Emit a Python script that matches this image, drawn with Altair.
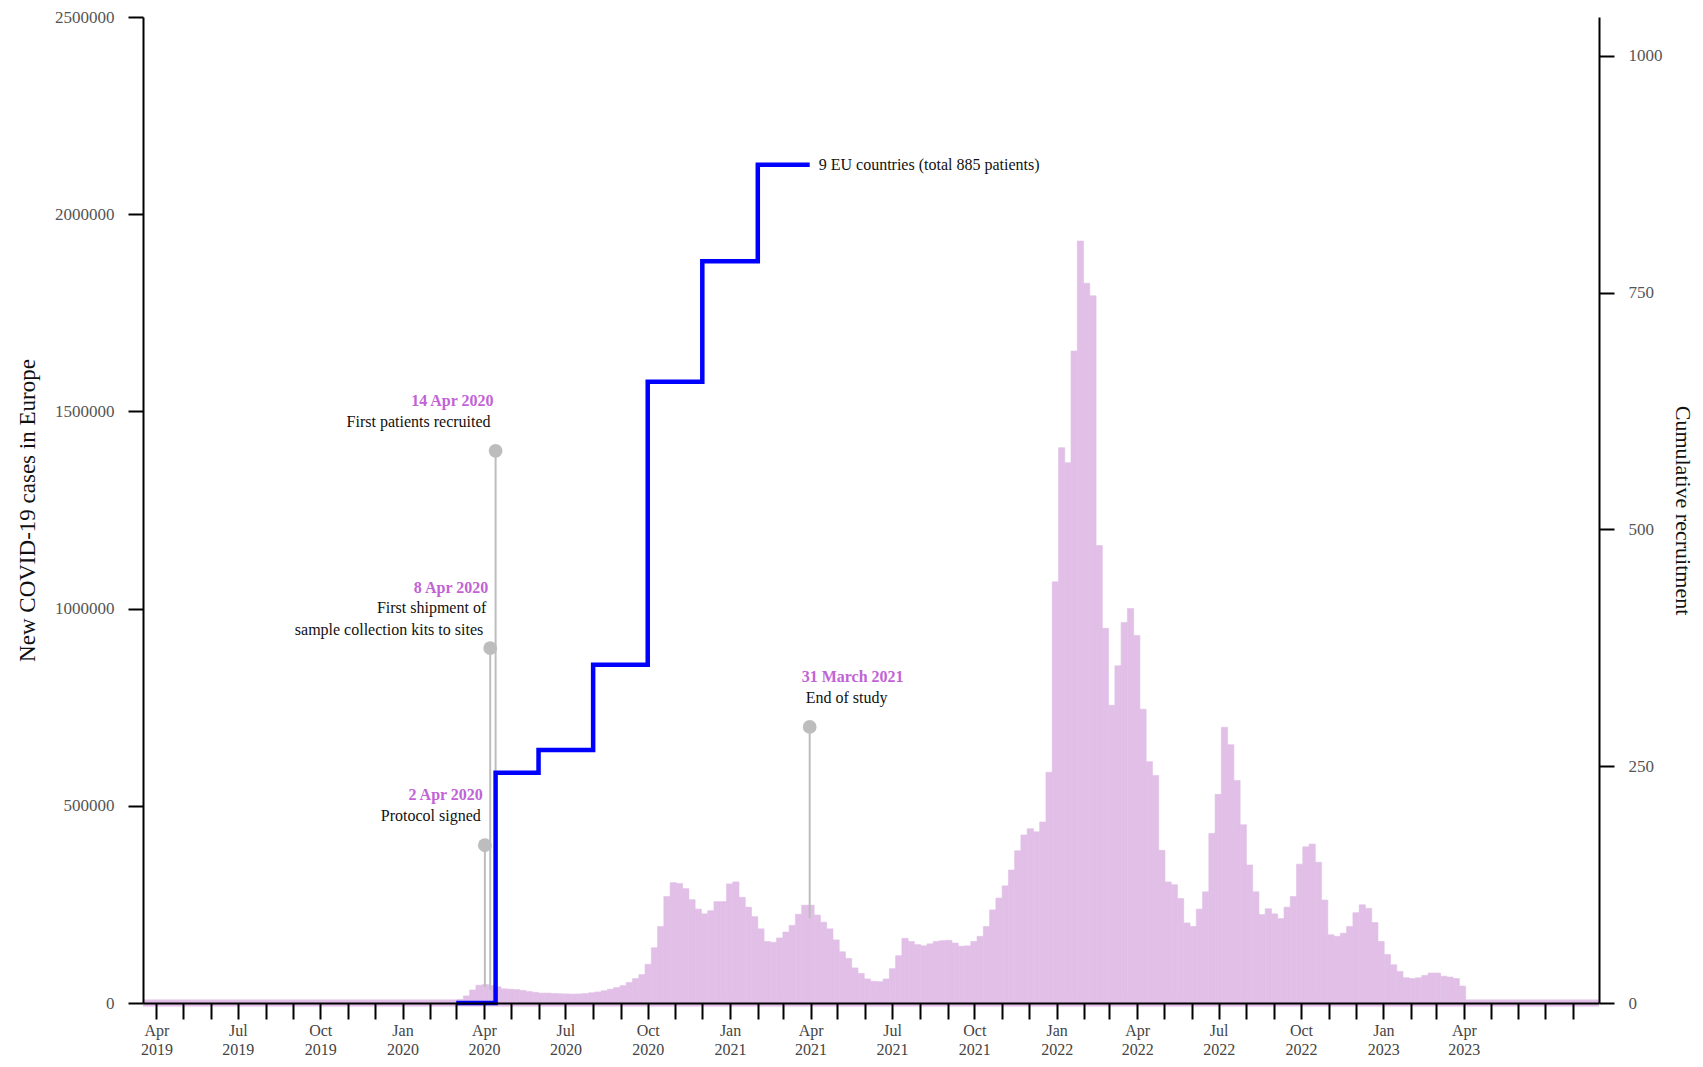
import altair as alt
import pandas as pd

PURPLE = "#e1bfe7"
BLUE = "#0000ff"
GREY = "#bdbdbd"
DATE_COLOR = "#c163d6"
FONT = "Liberation Serif"

# ---------------- data ----------------
# Weekly new COVID-19 cases in Europe, one value per week, weeks start Monday 2020-02-24
first_week = "2020-02-24"
cases_2020 = [4000, 9000, 18000, 33000, 45000, 47000, 44000, 41000, 36000, 35000,
              34000, 32000, 29000, 27000, 25000, 25000, 24000, 23500, 23000, 22500,
              23000, 24000, 26000, 28000, 31000, 35000, 39000, 44000, 52000, 62000,
              72000, 98000, 140000, 194000, 270000, 305000, 303000, 290000, 262000, 238000,
              226000, 234000, 257000, 257000, 302000]
cases_2021 = [307000, 268000, 243000, 219000, 188000, 156000, 154000, 165000, 180000, 197000,
              225000, 248000, 248000, 223000, 205000, 188000, 160000, 130000, 113000, 89000,
              75000, 61000, 55000, 54000, 61000, 87000, 120000, 164000, 156000, 148000,
              145000, 150000, 156000, 158000, 159000, 152000, 144000, 145000, 156000, 169000,
              194000, 236000, 266000, 297000, 337000, 386000, 426000, 442000, 434000, 459000,
              585000, 1068000]
cases_2022 = [1408000, 1370000, 1653000, 1932000, 1825000, 1793000, 1160000, 950000, 755000, 855000,
              965000, 1000000, 932000, 745000, 612000, 577000, 387000, 307000, 300000, 265000,
              203000, 194000, 238000, 282000, 430000, 529000, 699000, 655000, 564000, 452000,
              350000, 282000, 224000, 239000, 226000, 214000, 243000, 270000, 352000, 396000,
              403000, 357000, 261000, 173000, 169000, 177000, 194000, 229000, 249000, 240000,
              204000, 156000]
cases_2023 = [123000, 97000, 80000, 64000, 62000, 64000, 70000, 76000, 76000, 68000,
              66000, 62000, 43000]
weekly_cases = cases_2020 + cases_2021 + cases_2022 + cases_2023

# Cumulative recruitment (step line, right axis)
recruit_dates = ["2020-03-01", "2020-04-14", "2020-06-01", "2020-08-01",
                 "2020-10-01", "2020-12-01", "2021-02-01", "2021-03-31"]
recruit_totals = [0, 243, 267, 357, 656, 783, 885, 885]
recruit_label = "9 EU countries (total 885 patients)"

# Milestones (lollipops on the left axis)
ms_dates = ["2020-04-02", "2020-04-08", "2020-04-14", "2021-03-31"]
ms_tops = [400000, 900000, 1400000, 700000]
ms_bases = [40000, 34000, 36000, 215000]
ms_titles = ["2 Apr 2020", "8 Apr 2020", "14 Apr 2020", "31 March 2021"]
ms_lines = [["Protocol signed"],
            ["First shipment of", "sample collection kits to sites"],
            ["First patients recruited"],
            ["End of study"]]

# axis ticks
left_ticks = [0, 500000, 1000000, 1500000, 2000000, 2500000]
right_ticks = [0, 250, 500, 750, 1000]
tick_months = [(y, m) for y in range(2019, 2024) for m in range(1, 13)
               if (2019, 4) <= (y, m) <= (2023, 8)]

# ---------------- frames ----------------
starts = pd.date_range(first_week, periods=len(weekly_cases), freq="7D")
cases_df = pd.DataFrame({"start": starts, "end": starts + pd.Timedelta(days=7),
                         "cases": weekly_cases})
recruit_df = pd.DataFrame({"date": pd.to_datetime(recruit_dates), "n": recruit_totals})
ms_df = pd.DataFrame({"date": pd.to_datetime(ms_dates), "top": ms_tops, "base": ms_bases})
band_df = pd.DataFrame({"start": [pd.Timestamp("2019-03-17")],
                        "end": [pd.Timestamp("2023-08-30")], "v": [0]})

x_scale = alt.Scale(domain=[alt.DateTime(year=2019, month=3, date=17),
                            alt.DateTime(year=2023, month=8, date=30)], nice=False)
left_scale = alt.Scale(domain=[0, 2500000], nice=False)
right_scale = alt.Scale(domain=[0, 1041], nice=False)

x_axis = alt.Axis(
    values=[alt.DateTime(year=y, month=m, date=1) for (y, m) in tick_months],
    tickCount=200,
    labelExpr=("month(datum.value) % 3 == 0 && (year(datum.value) < 2023 || month(datum.value) <= 3)"
               " ? [timeFormat(datum.value, '%b'), timeFormat(datum.value, '%Y')] : ''"),
    tickSize=16, tickWidth=2, tickColor="black", domainColor="black", domainWidth=2,
    labelFontSize=16, labelColor="#444", labelPadding=3, labelLineHeight=19,
    labelOverlap=False, labelFlush=False, grid=False, title=None, zindex=1)

left_axis = alt.Axis(
    values=left_ticks, format="d", tickSize=15, tickWidth=2, tickColor="black",
    domainColor="black", domainWidth=2, labelFontSize=17, labelColor="#555",
    labelPadding=14, grid=False, title="New COVID\u201119 cases in Europe",
    titleFontSize=23, titleFontWeight="normal", titleColor="#111", titlePadding=15,
    zindex=1)

right_axis = alt.Axis(
    orient="right", values=right_ticks, format="d", tickSize=15, tickWidth=2,
    tickColor="black", domainColor="black", domainWidth=2, labelFontSize=17,
    labelColor="#555", labelPadding=14, grid=False, title="Cumulative recruitment",
    titleFontSize=22, titleFontWeight="normal", titleColor="#111", titlePadding=8,
    zindex=1)

bars = alt.Chart(cases_df).mark_rect(color=PURPLE, stroke=PURPLE, strokeWidth=0.6).encode(
    x=alt.X("start:T", scale=x_scale, axis=x_axis),
    x2="end:T",
    y=alt.Y("cases:Q", scale=left_scale, axis=left_axis),
    y2=alt.datum(0))

band = alt.Chart(band_df).mark_rule(color=PURPLE, strokeWidth=7).encode(
    x=alt.X("start:T", scale=x_scale), x2="end:T", y=alt.Y("v:Q", scale=left_scale))

stems = alt.Chart(ms_df).mark_rule(color=GREY, strokeWidth=2).encode(
    x=alt.X("date:T", scale=x_scale), y=alt.Y("top:Q", scale=left_scale), y2="base:Q")
dots = alt.Chart(ms_df).mark_circle(color=GREY, size=190, opacity=1).encode(
    x=alt.X("date:T", scale=x_scale), y=alt.Y("top:Q", scale=left_scale))

# text placement (style): align, (dx, dy) for title, [(dx, dy)] for lines
note_style = [
    ("right", (-2, -50), [(-4, -29)]),
    ("right", (-2, -60), [(-4, -40), (-7, -18)]),
    ("right", (-2, -50), [(-5, -29)]),
    ("left", (-8, -50), [(-4, -29)]),
]

texts = []
for i, (align, tpos, lpos) in enumerate(note_style):
    row = ms_df.iloc[[i]]
    texts.append(alt.Chart(row).mark_text(
        align=align, baseline="middle", dx=tpos[0], dy=tpos[1], fontSize=16,
        fontWeight="bold", color=DATE_COLOR, font=FONT).encode(
        x=alt.X("date:T", scale=x_scale), y=alt.Y("top:Q", scale=left_scale),
        text=alt.value(ms_titles[i])))
    for j, (ldx, ldy) in enumerate(lpos):
        texts.append(alt.Chart(row).mark_text(
            align=align, baseline="middle", dx=ldx, dy=ldy, fontSize=16,
            color="#111", font=FONT).encode(
            x=alt.X("date:T", scale=x_scale), y=alt.Y("top:Q", scale=left_scale),
            text=alt.value(ms_lines[i][j])))

left_group = alt.layer(bars, band, stems, dots, *texts)

line = alt.Chart(recruit_df).mark_line(interpolate="step-after", color=BLUE,
                                       strokeWidth=4.5).encode(
    x=alt.X("date:T", scale=x_scale),
    y=alt.Y("n:Q", scale=right_scale, axis=right_axis))
line_label = alt.Chart(recruit_df.tail(1)).mark_text(
    align="left", baseline="middle", dx=9, fontSize=16, color="#111", font=FONT).encode(
    x=alt.X("date:T", scale=x_scale), y=alt.Y("n:Q", scale=right_scale),
    text=alt.value(recruit_label))
right_group = alt.layer(line, line_label)

chart = alt.layer(left_group, right_group).resolve_scale(y="independent").properties(
    width=1456, height=986,
    padding={"left": 135, "top": 9, "right": 96, "bottom": 56},
    autosize=alt.AutoSizeParams(type="none"),
).configure(font=FONT).configure_view(stroke=None)

chart.save("out.html", embed_options={"renderer": "svg", "actions": False})
